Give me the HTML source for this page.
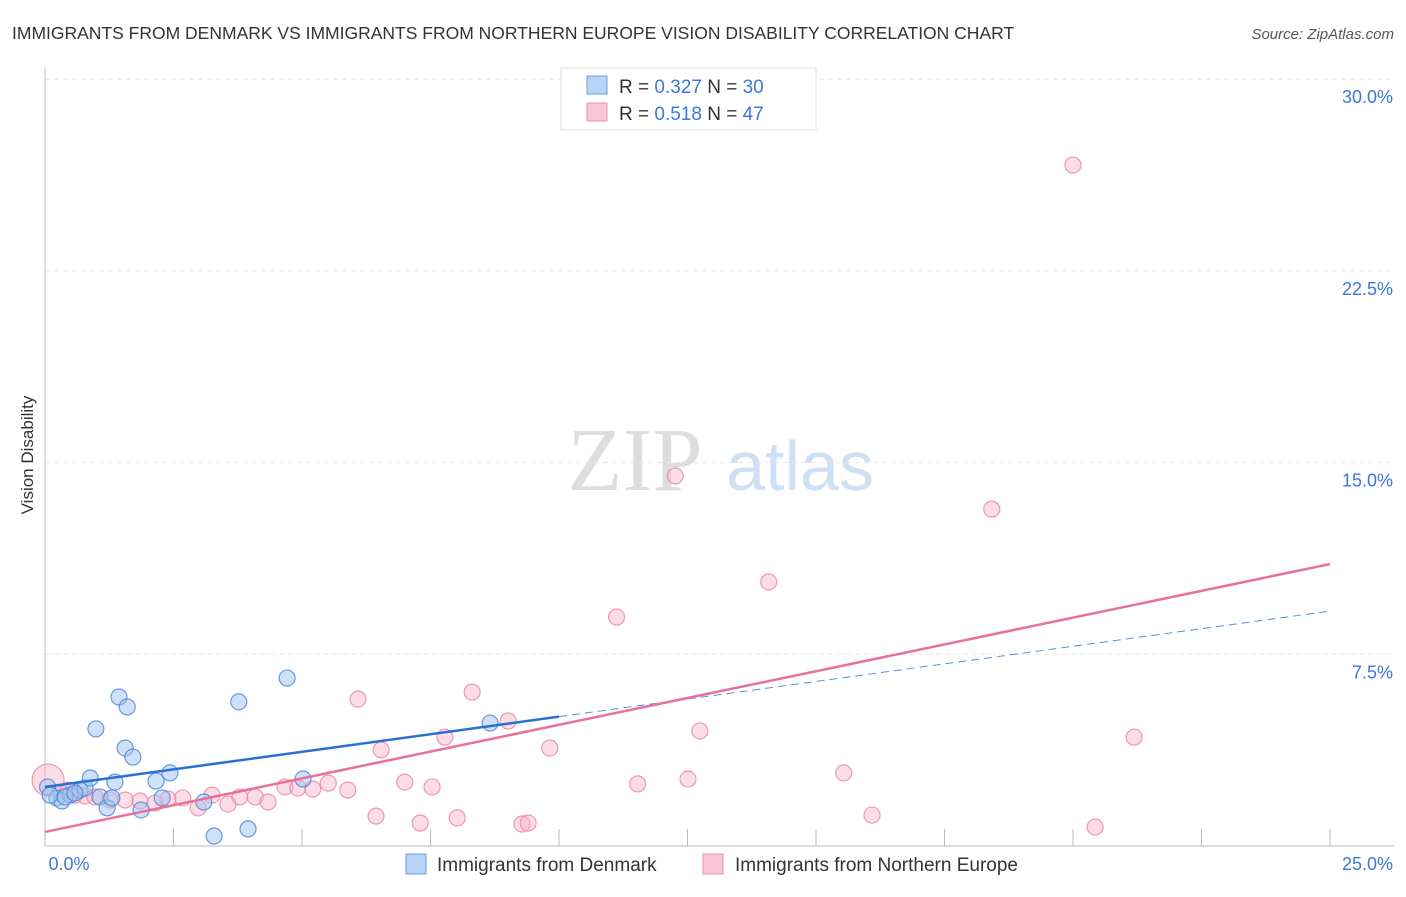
<!DOCTYPE html>
<html><head><meta charset="utf-8">
<style>
body{margin:0;background:#fff;font-family:"Liberation Sans",sans-serif;}
</style></head>
<body>
<svg id="chart" width="1406" height="892" xmlns="http://www.w3.org/2000/svg" font-family="Liberation Sans, sans-serif">
<text x="12" y="39" font-size="17.5" fill="#333">IMMIGRANTS FROM DENMARK VS IMMIGRANTS FROM NORTHERN EUROPE VISION DISABILITY CORRELATION CHART</text>
<text x="1394" y="39" font-size="15" fill="#555" text-anchor="end" font-style="italic">Source: ZipAtlas.com</text>
<text transform="translate(33,455) rotate(-90)" font-size="17" fill="#333" text-anchor="middle">Vision Disability</text>
<g>
<text x="635" y="490" font-size="90" fill="#ddd" font-family="Liberation Serif, serif" text-anchor="middle">ZIP</text>
<text x="800" y="490" font-size="70" fill="#cfe0f5" text-anchor="middle">atlas</text>
</g>
<g id="grid"></g><g id="axes"></g><g id="marks"></g>
<g>
<rect x="561" y="68" width="255" height="62" fill="#fff" stroke="#ddd"/>
<rect x="587" y="76" width="20" height="18" fill="#b8d4f5" stroke="#6a9ee0"/>
<rect x="587" y="103" width="20" height="18" fill="#fac6d6" stroke="#e890ad"/>
<text x="619" y="93" font-size="19" fill="#333">R = <tspan fill="#3b78d8">0.327</tspan>   N = <tspan fill="#3b78d8">30</tspan></text>
<text x="619" y="120" font-size="19" fill="#333">R =  <tspan fill="#3b78d8">0.518</tspan>   N =  <tspan fill="#3b78d8">47</tspan></text>
</g>
<g>
<rect x="406" y="854" width="20" height="20" fill="#b8d4f5" stroke="#6a9ee0"/>
<text x="437" y="871" font-size="19" fill="#333">Immigrants from Denmark</text>
<rect x="703" y="854" width="20" height="20" fill="#fac6d6" stroke="#e890ad"/>
<text x="735" y="871" font-size="19" fill="#333">Immigrants from Northern Europe</text>
</g>
</svg>
<script>
const xTicks=[0,2.5,5,7.5,10,12.5,15,17.5,20,22.5,25];
const yTicks=[7.5,15,22.5,30];
const yTickLabels=["7.5%","15.0%","22.5%","30.0%"];
const blueX=[0.05,0.23,0.33,0.49,0.68,0.78,0.88,0.99,1.07,1.21,1.30,1.36,1.44,1.56,1.60,1.71,1.87,2.16,2.28,2.43,3.09,3.29,3.77,3.95,4.71,5.02,8.66,0.10,0.39,0.58];
const blueY=[2.31,1.88,1.76,2.00,2.19,2.27,2.66,4.58,1.92,1.49,1.88,2.50,5.83,3.83,5.44,3.48,1.41,2.54,1.88,2.86,1.72,0.39,5.64,0.67,6.57,2.62,4.81,1.99,1.92,2.07];
const pinkX=[0.06,0.29,0.45,0.58,0.78,0.97,1.26,1.56,1.85,2.14,2.39,2.68,2.98,3.25,3.56,3.79,4.09,4.34,4.67,4.92,5.21,5.51,5.89,6.09,6.44,6.54,7.00,7.30,7.53,7.78,8.02,8.31,9.01,9.28,9.40,9.82,11.12,11.53,12.26,12.51,12.74,14.08,15.54,16.09,18.42,20.00,20.43,21.19];
const pinkY=[2.58,2.11,2.19,1.99,1.96,1.92,1.80,1.80,1.76,1.68,1.84,1.88,1.49,1.99,1.64,1.92,1.92,1.72,2.31,2.27,2.23,2.46,2.19,5.75,1.17,3.76,2.50,0.90,2.31,4.26,1.10,6.02,4.89,0.86,0.90,3.83,8.96,2.43,14.48,2.62,4.50,10.33,2.86,1.21,13.18,26.64,0.74,4.26];
const blueTrend=[2.31,9.19];
const pinkTrend=[0.55,11.03];
const NS="http://www.w3.org/2000/svg";
const X=v=>45+v/25*1285, Y=v=>846-v*25.56;
function el(t,a,p){const e=document.createElementNS(NS,t);for(const k in a)e.setAttribute(k,a[k]);document.getElementById(p).appendChild(e);return e;}
yTicks.forEach((t,i)=>{
 const g=el('line',{x1:45,x2:1394,y1:Y(t),y2:Y(t),stroke:'#e6e6e6','stroke-dasharray':'5,4'},'grid');
 
 
 const l=el('text',{x:1393,y:Y(t)+24,'font-size':18,fill:'#3b78d8','text-anchor':'end'},'axes');
 l.textContent=yTickLabels[i];
 
 
});
const ax=el('line',{x1:45,x2:1394,y1:846,y2:846,stroke:'#bbb'},'axes');


const ay=el('line',{x1:45,x2:45,y1:68,y2:846,stroke:'#bbb'},'axes');


xTicks.forEach(t=>{if(t===0)return;
 const k=el('line',{x1:X(t),x2:X(t),y1:829,y2:846,stroke:'#bbb'},'axes');
 
 
});
[[0,'0.0%',69,'middle'],[25,'25.0%',1393,'end']].forEach(a=>{
 const l=el('text',{x:a[2],y:870,'font-size':18,fill:'#3b78d8','text-anchor':a[3]},'axes');
 l.textContent=a[1];
 
 
});
pinkX.forEach((x,i)=>{
 const c=el('circle',{cx:X(x),cy:Y(pinkY[i]),r:i===0?16:8,fill:'rgba(248,180,200,0.45)',stroke:'rgba(232,130,165,0.8)','stroke-width':1.2},'marks');
 
 
});
blueX.forEach((x,i)=>{
 const c=el('circle',{cx:X(x),cy:Y(blueY[i]),r:8,fill:'rgba(160,196,240,0.5)',stroke:'rgba(70,130,215,0.8)','stroke-width':1.2},'marks');
 
 
});
const bAt=x=>blueTrend[0]+(blueTrend[1]-blueTrend[0])*x/25;
const b1=el('line',{x1:X(0),y1:Y(bAt(0)),x2:X(10),y2:Y(bAt(10)),stroke:'#2a6fd6','stroke-width':2.5},'marks');


const b2=el('line',{x1:X(10),y1:Y(bAt(10)),x2:X(25),y2:Y(bAt(25)),stroke:'#5a8fdf','stroke-width':1,'stroke-dasharray':'8,5'},'marks');


const p1=el('line',{x1:X(0),y1:Y(pinkTrend[0]),x2:X(25),y2:Y(pinkTrend[1]),stroke:'#e8709a','stroke-width':2.5},'marks');


</script>
</body></html>
